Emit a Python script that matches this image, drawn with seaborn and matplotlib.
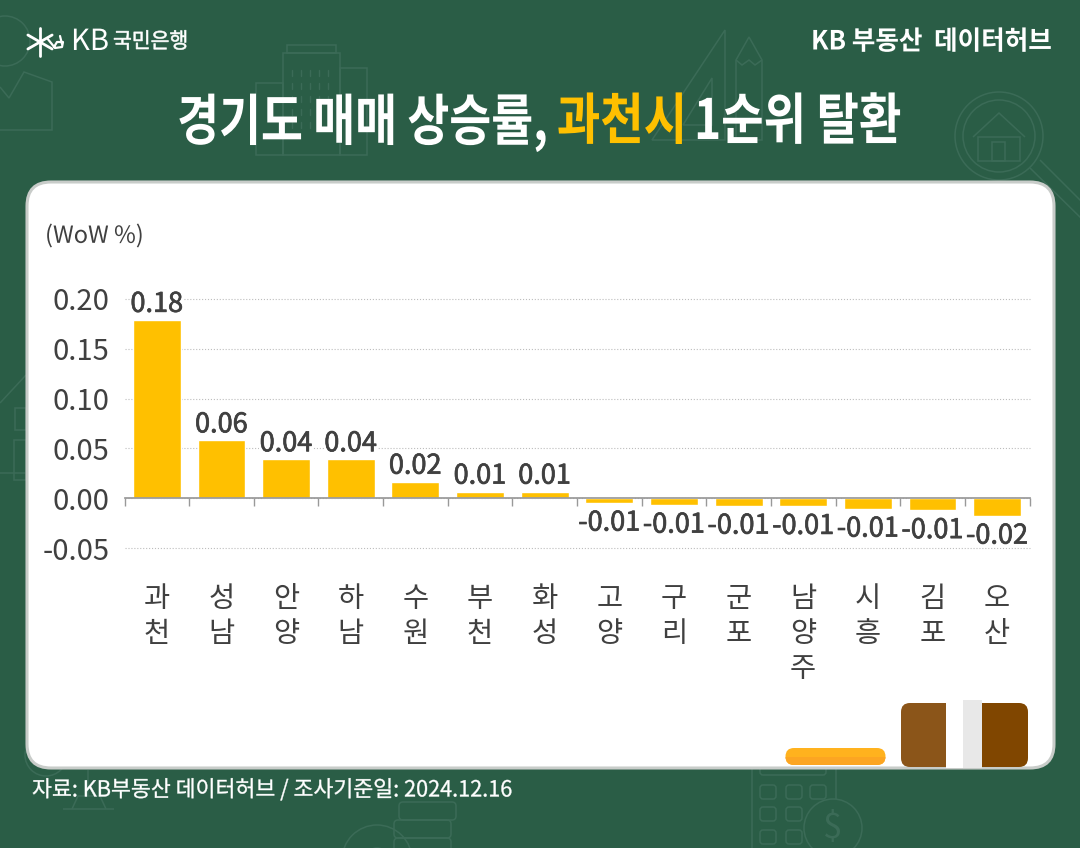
import numpy as np
import pandas as pd
import seaborn as sns
import matplotlib.pyplot as plt
import matplotlib.patheffects as pe
from matplotlib.patches import Circle, FancyBboxPatch, Polygon, Rectangle
from matplotlib.transforms import Affine2D

cities = ['과천', '성남', '안양', '하남', '수원', '부천', '화성',
          '고양', '구리', '군포', '남양주', '시흥', '김포', '오산']
values = [0.179, 0.058, 0.039, 0.039, 0.0165, 0.0065, 0.0065,
          -0.0045, -0.0065, -0.0075, -0.0078, -0.0105, -0.012, -0.0175]
value_labels = ['0.18', '0.06', '0.04', '0.04', '0.02', '0.01', '0.01',
                '-0.01', '-0.01', '-0.01', '-0.01', '-0.01', '-0.01', '-0.02']
y_ticks = [-0.05, 0.00, 0.05, 0.10, 0.15, 0.20]
y_tick_labels = ['-0.05', '0.00', '0.05', '0.10', '0.15', '0.20']

GREEN = '#2A5D46'
ICON = '#3B6B57'
YELLOW = '#FFC000'
DARK = '#404040'
W, H = 1080, 848

sns.set_theme(style='white')
plt.rcParams['font.family'] = ['Noto Sans CJK KR', 'DejaVu Sans']


class Squeeze(pe.AbstractPathEffect):
    # narrows a text around its anchor, the original type is set tight
    def __init__(self, x0, sx, ink_x=None, stroke=0):
        super().__init__()
        self.x0 = x0
        self.sx = sx
        self.ink_x = x0 if ink_x is None else ink_x
        self.stroke = stroke

    def draw_path(self, renderer, gc, tpath, affine, rgbFace=None):
        tr = affine + Affine2D().translate(-self.x0, 0).scale(self.sx, 1).translate(self.ink_x, 0)
        if self.stroke:
            gc0 = renderer.new_gc()
            gc0.copy_properties(gc)
            gc0.set_foreground(rgbFace)
            gc0.set_linewidth(self.stroke)
            renderer.draw_path(gc0, tpath, tr, rgbFace)
            gc0.restore()
        else:
            renderer.draw_path(gc, tpath, tr, rgbFace)


fig = plt.figure(figsize=(W / 100, H / 100), dpi=100, facecolor=GREEN)
bg = fig.add_axes([0, 0, 1, 1])
bg.set_xlim(0, W)
bg.set_ylim(H, 0)
bg.axis('off')


def put(x, y, s, size, color='white', weight='regular', sx=1, ha='left', ink_x=None, stroke=0):
    t = bg.text(x, y, s, fontsize=size, color=color, fontweight=weight, ha=ha, va='center', zorder=6)
    t.set_path_effects([Squeeze(x, sx, ink_x, stroke)])
    return t


def box(x0, y0, x1, y1, r=0, **kw):
    kw.setdefault('fc', 'none')
    kw.setdefault('ec', ICON)
    kw.setdefault('lw', 1.1)
    kw.setdefault('zorder', 1)
    p = FancyBboxPatch((x0 + r, y0 + r), x1 - x0 - 2 * r, y1 - y0 - 2 * r,
                       boxstyle=f'round,pad={r},rounding_size={r}', **kw)
    bg.add_patch(p)
    return p


def poly(pts, closed=False):
    bg.add_patch(Polygon(pts, closed=closed, fc='none', ec=ICON, lw=1.1, zorder=1))


def ring(x, y, r):
    bg.add_patch(Circle((x, y), r, fc='none', ec=ICON, lw=1.1, zorder=1))


# background icons
ring(5, 41, 25)
poly([(0, 87), (9, 98), (24, 72), (52, 82), (52, 130), (0, 130)])
box(287, 45, 336, 53)
box(283, 53, 340, 155)
box(256, 83, 283, 155)
box(340, 68, 367, 155)
for wx in range(292, 334, 9):
    for wy in range(70, 130, 13):
        bg.plot([wx, wx], [wy, wy + 6], color=ICON, lw=1, zorder=1)
poly([(725, 30), (652, 140), (725, 140)], closed=True)
poly([(712, 78), (683, 125), (712, 125)], closed=True)
poly([(736, 140), (736, 60), (749, 37), (762, 60), (762, 140)], closed=True)
poly([(736, 60), (742, 65), (749, 60), (755, 65), (762, 60)])
ring(999, 136, 44)
ring(999, 136, 36)
poly([(1030, 168), (1085, 222)])
poly([(1040, 160), (1085, 205)])
poly([(973, 137), (999, 113), (1025, 137)])
box(978, 137, 1020, 161)
box(992, 142, 1005, 161)
poly([(0, 403), (26, 375)])
box(15, 408, 26, 430)
box(14, 440, 26, 480)
poly([(0, 473), (26, 473)])
box(752, 760, 836, 860)
box(760, 745, 826, 775, r=3)
for bx in (760, 786, 810):
    for by in (785, 807, 830):
        if not (bx == 810 and by > 800):
            box(bx, by, bx + 16, by + 14, r=3)
bg.add_patch(Circle((833, 828), 29, fc=GREEN, ec=ICON, lw=1.1, zorder=1))
bg.text(833, 829, '$', color=ICON, fontsize=25, ha='center', va='center', zorder=1)
box(399, 802, 456, 820, r=4)
box(394, 820, 451, 838, r=4)
box(394, 838, 451, 860, r=4)
ring(377, 860, 35)
ring(377, 860, 12)
poly([(63, 809), (114, 809)])
poly([(72, 809), (78, 796), (100, 796), (106, 809)])
poly([(88, 770), (88, 796)])
ring(46, 755, 21)

# white card and the props standing on it
box(27, 182, 1054, 768, r=24, fc='white', ec='#C8CCC9', lw=2.2, zorder=2)
pill = box(785.5, 748, 885.5, 765, r=8.5, fc='#FFB21E', ec='none', zorder=3)
low = Rectangle((785, 757), 101, 9, fc='#FCA522', ec='none', zorder=3)
bg.add_patch(low)
low.set_clip_path(pill)
box(901, 703, 960, 767, r=9, fc='#8B5519', ec='none', zorder=3)
box(968, 703, 1028, 767, r=9, fc='#804600', ec='none', zorder=3)
bg.add_patch(Rectangle((945.5, 700), 18, 68, fc='white', ec='none', zorder=3))
bg.add_patch(Rectangle((963, 700), 19, 68, fc='#E8E8E8', ec='none', zorder=3))

# KB logo mark
for a in (0, 60, 120):
    dx, dy = 14 * np.cos(np.radians(a + 90)), 14 * np.sin(np.radians(a + 90))
    bg.plot([40 - dx, 40 + dx], [42 - dy, 42 + dy], color='white', lw=2, zorder=6)
bg.plot([47, 55, 62, 63, 57, 54], [38, 48, 47, 42, 42, 47], color='white', lw=1.6, zorder=6)
bg.plot([60, 62], [36, 44], color='white', lw=1.6, zorder=6)
put(71, 42, 'KB', 21)
put(113, 42, '국민은행', 15.5, sx=0.95, stroke=0.4)
put(811, 42, 'KB 부동산  데이터허브', 19, weight='bold', sx=0.97)

# title, split in three because of the yellow word
put(537, 123, '경기도 매매 상승률,', 40, weight='bold', sx=0.82, ha='right', ink_x=548)
put(622, 123, '과천시', 40, color=YELLOW, weight='bold', sx=0.85, ha='center')
put(706, 123, '1순위 탈환', 40, weight='bold', sx=0.83, ink_x=694)

put(45, 236, '(WoW %)', 17, color=DARK)
put(32, 790, '자료: KB부동산 데이터허브 / 조사기준일: 2024.12.16', 16, sx=0.975, stroke=0.25)

# chart
df = pd.DataFrame({'city': cities, 'value': values})
ax = fig.add_axes([124.5 / W, 1 - 548 / H, 905 / W, 249 / H], facecolor='none')
ax.set_zorder(5)
sns.barplot(data=df, x='city', y='value', color=YELLOW, saturation=1, width=0.74, ax=ax, zorder=3)
ax.set_xlim(-0.5, 13.5)
ax.set_ylim(-0.05, 0.20)
ax.set_xlabel('')
ax.set_ylabel('')
ax.set_yticks(y_ticks)
ax.set_yticklabels(y_tick_labels, fontsize=21, color=DARK)
ax.tick_params(axis='y', length=0, pad=11)
ax.grid(axis='y', ls=':', lw=0.8, color='#BDBDBD', zorder=0)
for g in ax.get_ygridlines():
    g.set_clip_on(False)
ax.set_axisbelow(True)

ax.set_xticks(np.arange(len(cities) + 1) - 0.5, minor=True)
ax.tick_params(axis='x', which='minor', bottom=True, length=6, width=1, color='#999999')
ax.set_xticks(range(len(cities)))
ax.set_xticklabels(['\n'.join(c) for c in cities])
ax.tick_params(axis='x', which='major', length=0, pad=62, labelsize=20.5, labelcolor=DARK)
for lab in ax.get_xticklabels():
    lab.set_linespacing(1.1)

for s in ['top', 'left', 'right']:
    ax.spines[s].set_visible(False)
ax.spines['bottom'].set_position(('data', 0))
ax.spines['bottom'].set_color('#999999')
ax.spines['bottom'].set_zorder(4)

for i, (v, lab) in enumerate(zip(values, value_labels)):
    t = ax.annotate(lab, (i, v), xytext=(0, 1.5 if v > 0 else -5), textcoords='offset points',
                    ha='center', va='bottom' if v > 0 else 'top', fontsize=19.5, color=DARK, zorder=4)
    t.set_path_effects([pe.withStroke(linewidth=0.5, foreground=DARK)])
    if v > 0:
        t.set_bbox(dict(fc='white', ec='none', pad=0.5))

fig.savefig('out.png', dpi=100, facecolor=GREEN)
